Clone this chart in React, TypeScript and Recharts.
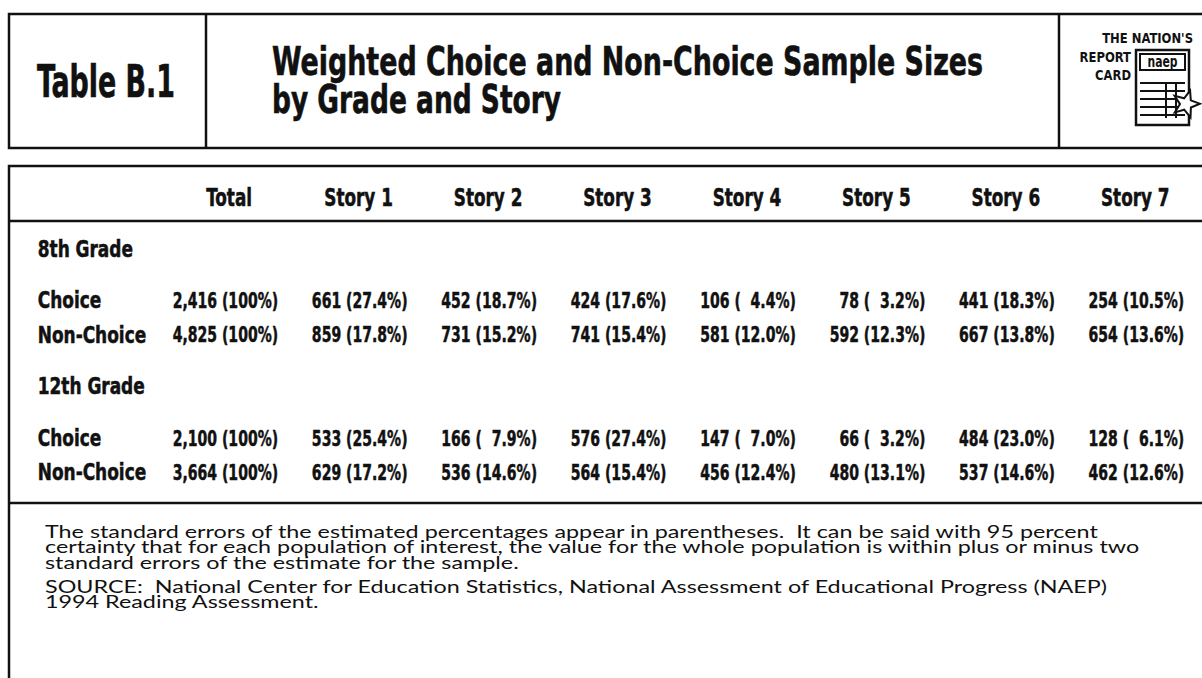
import React from "react";
import { ScatterChart, Scatter, XAxis, YAxis } from "recharts";

// column headings of the table
const columns = ["Total", "Story 1", "Story 2", "Story 3", "Story 4", "Story 5", "Story 6", "Story 7"];
const grades = ["8th Grade", "12th Grade"];
const groups = ["Choice", "Non-Choice"];

// weighted sample sizes and percentages, per grade and group
const choice8Counts = [2416, 661, 452, 424, 106, 78, 441, 254];
const choice8Pct = [100, 27.4, 18.7, 17.6, 4.4, 3.2, 18.3, 10.5];
const nonChoice8Counts = [4825, 859, 731, 741, 581, 592, 667, 654];
const nonChoice8Pct = [100, 17.8, 15.2, 15.4, 12.0, 12.3, 13.8, 13.6];
const choice12Counts = [2100, 533, 166, 576, 147, 66, 484, 128];
const choice12Pct = [100, 25.4, 7.9, 27.4, 7.0, 3.2, 23.0, 6.1];
const nonChoice12Counts = [3664, 629, 536, 564, 456, 480, 537, 462];
const nonChoice12Pct = [100, 17.2, 14.6, 15.4, 12.4, 13.1, 14.6, 12.6];

const noteLines = [
  "The standard errors of the estimated percentages appear in parentheses.  It can be said with 95 percent",
  "certainty that for each population of interest, the value for the whole population is within plus or minus two",
  "standard errors of the estimate for the sample.",
];
const sourceLines = [
  "SOURCE:  National Center for Education Statistics, National Assessment of Educational Progress (NAEP)",
  "1994 Reading Assessment.",
];

const BOLD = "'DejaVu Sans Condensed', 'DejaVu Sans', sans-serif";
const BOOK = "Lato, 'Open Sans', sans-serif";
const INK = "#111";

const tableData = [
  [[choice8Counts, choice8Pct], [nonChoice8Counts, nonChoice8Pct]],
  [[choice12Counts, choice12Pct], [nonChoice12Counts, nonChoice12Pct]],
];

const fmtCell = (n: number, p: number) => {
  const pct = p === 100 ? "100%" : p < 10 ? "\u00A0\u00A0" + p.toFixed(1) + "%" : p.toFixed(1) + "%";
  return `${n.toLocaleString("en-US")} (${pct})`;
};

type Pt = { col: number; slot: number; kind: string; text: string };

// rows sit on a slot grid: heading row, then grade heading (+3), choice (+3), non-choice (+2)
function buildPoints(): Pt[] {
  const pts: Pt[] = [];
  columns.forEach((c, i) => pts.push({ col: i + 1, slot: 0, kind: "head", text: c }));
  let slot = 0;
  grades.forEach((g, gi) => {
    slot += 3;
    pts.push({ col: 0, slot, kind: "grade", text: g });
    groups.forEach((grp, ri) => {
      slot += ri === 0 ? 3 : 2;
      pts.push({ col: 0, slot, kind: "label", text: grp });
      const [counts, pct] = tableData[gi][ri];
      counts.forEach((n, ci) => pts.push({ col: ci + 1, slot, kind: "cell", text: fmtCell(n, pct[ci]) }));
    });
  });
  return pts;
}

const points = buildPoints();
const lastSlot = Math.max(...points.map((p) => p.slot));

// condensed bold text: the original face is much narrower than anything installed
const Cond = ({ x, y, sx, size, anchor = "start", children }: any) => (
  <g transform={`translate(${x},${y}) scale(${sx},1)`}>
    <text x={0} y={0} dy="0.36em" textAnchor={anchor} fontSize={size} fontWeight={700} fontFamily={BOLD}
      fill={INK} stroke={INK} strokeWidth={0.5} style={{ whiteSpace: "pre" }}>
      {children}
    </text>
  </g>
);

const CellShape = (props: any) => {
  const { cx, cy, payload } = props;
  if (payload.kind === "head") return <Cond x={cx} y={cy} sx={0.78} size={24} anchor="middle">{payload.text}</Cond>;
  if (payload.kind === "grade" || payload.kind === "label")
    return <Cond x={cx - 62} y={cy} sx={0.82} size={23}>{payload.text}</Cond>;
  return <Cond x={cx + 49} y={cy} sx={0.71} size={22} anchor="end">{payload.text}</Cond>;
};

const starPoints = (cx: number, cy: number, ro: number, ri: number) => {
  const out: string[] = [];
  for (let i = 0; i < 10; i++) {
    const r = i % 2 === 0 ? ro : ri;
    const a = -Math.PI / 2 + (i * Math.PI) / 5 + 0.3;
    out.push(`${(cx + r * Math.cos(a)).toFixed(1)},${(cy + r * Math.sin(a)).toFixed(1)}`);
  }
  return out.join(" ");
};

// widen the book face so the first note line spans the same width as in the print
function noteScale() {
  try {
    const ctx = document.createElement("canvas").getContext("2d");
    if (!ctx) return 1.16;
    ctx.font = `18px ${BOOK}`;
    return 1055 / ctx.measureText(noteLines[0]).width;
  } catch {
    return 1.16;
  }
}

const LogoText = ({ x, y, children }: any) => (
  <g transform={`translate(${x},${y}) scale(0.92,1)`}>
    <text x={0} y={0} textAnchor="end" fontSize={14} fontWeight={700} fontFamily={BOLD} fill={INK}>{children}</text>
  </g>
);

function Frame() {
  const sw = 2.5;
  const ns = noteScale();
  return (
    <svg width={1202} height={678} style={{ position: "absolute", left: 0, top: 0 }}>
      <rect x={0} y={0} width={1202} height={678} fill="#fff" />
      {/* title box */}
      <rect x={9} y={14} width={1210} height={134} fill="none" stroke={INK} strokeWidth={sw} />
      <line x1={206} y1={14} x2={206} y2={148} stroke={INK} strokeWidth={sw} />
      <line x1={1059} y1={14} x2={1059} y2={148} stroke={INK} strokeWidth={sw} />
      <text x={37} y={97} fontSize={44} fontWeight={700} fontFamily={BOLD} fill={INK} stroke={INK} strokeWidth={0.6}
        textLength={138} lengthAdjust="spacingAndGlyphs">
        Table B.1
      </text>
      <text x={272} y={75} fontSize={39} fontWeight={700} fontFamily={BOLD} fill={INK} stroke={INK} strokeWidth={0.6}
        textLength={711} lengthAdjust="spacingAndGlyphs">
        Weighted Choice and Non-Choice Sample Sizes
      </text>
      <text x={272} y={113} fontSize={39} fontWeight={700} fontFamily={BOLD} fill={INK} stroke={INK} strokeWidth={0.6}
        textLength={289} lengthAdjust="spacingAndGlyphs">
        by Grade and Story
      </text>
      {/* report card logo */}
      <LogoText x={1193} y={43}>THE NATION'S</LogoText>
      <LogoText x={1131} y={61.5}>REPORT</LogoText>
      <LogoText x={1131} y={80}>CARD</LogoText>
      <rect x={1136} y={50} width={53} height={75} fill="#fff" stroke={INK} strokeWidth={2.5} />
      <rect x={1140} y={54} width={45} height={16} fill="#fff" stroke={INK} strokeWidth={2} />
      <g transform="translate(1162.5,67) scale(0.8,1)">
        <text x={0} y={0} textAnchor="middle" fontSize={15} fontWeight={700} fontFamily={BOLD} fill={INK}>naep</text>
      </g>
      {[83, 91, 99, 107, 115].map((y) => (
        <line key={y} x1={1140} y1={y} x2={1185} y2={y} stroke={INK} strokeWidth={2} />
      ))}
      <line x1={1166} y1={83} x2={1166} y2={118} stroke={INK} strokeWidth={2} />
      <line x1={1176} y1={83} x2={1176} y2={118} stroke={INK} strokeWidth={2} />
      <polygon points={starPoints(1186, 104, 14, 6)} fill="#fff" stroke={INK} strokeWidth={2} />

      {/* table box */}
      <path d="M1210 166 H9 V690" fill="none" stroke={INK} strokeWidth={sw} />
      <line x1={9} y1={221} x2={1210} y2={221} stroke={INK} strokeWidth={sw} />
      <line x1={9} y1={503} x2={1210} y2={503} stroke={INK} strokeWidth={sw} />

      {/* notes */}
      <g transform={`translate(45,0) scale(${ns},1)`}>
        {noteLines.map((t, i) => (
          <text key={i} x={0} y={538 + i * 15.5} fontSize={18} fontFamily={BOOK} fill={INK} style={{ whiteSpace: "pre" }}>
            {t}
          </text>
        ))}
        {sourceLines.map((t, i) => (
          <text key={i} x={0} y={593 + i * 15.5} fontSize={18} fontFamily={BOOK} fill={INK} style={{ whiteSpace: "pre" }}>
            {t}
          </text>
        ))}
      </g>
    </svg>
  );
}

export default function App() {
  return (
    <div style={{ position: "relative", width: 1202, height: 678, background: "#fff" }}>
      <style>{"body{margin:0}"}</style>
      <Frame />
      <div style={{ position: "absolute", left: 0, top: 0 }}>
        <ScatterChart width={1202} height={678} margin={{ top: 197, right: 2, bottom: 206, left: 35 }}>
          <XAxis type="number" dataKey="col" domain={[-0.5, columns.length + 0.5]} hide />
          <YAxis type="number" dataKey="slot" domain={[0, lastSlot]} reversed hide />
          <Scatter data={points} shape={CellShape} isAnimationActive={false} />
        </ScatterChart>
      </div>
    </div>
  );
}
